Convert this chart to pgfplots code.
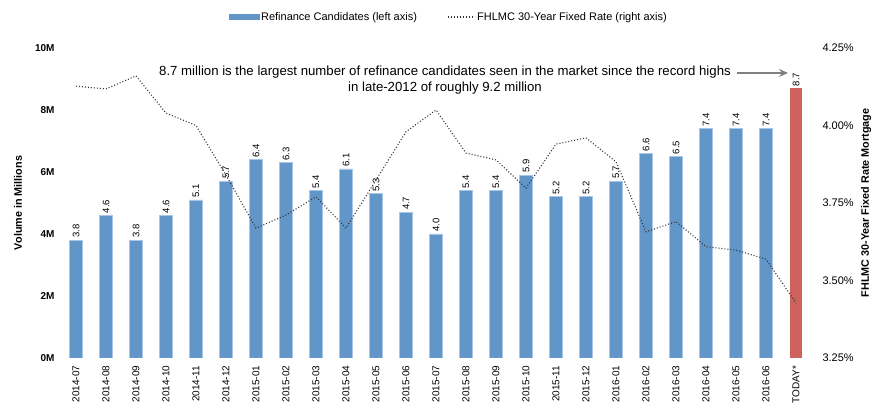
\documentclass[border=0pt]{standalone}
\usepackage{pgfplots}
\pgfplotsset{compat=1.18}
\usetikzlibrary{arrows.meta}
\usepackage{fontspec}
\setmainfont{Liberation Sans}
\definecolor{barblue}{HTML}{6296C9}
\definecolor{barred}{HTML}{CD615C}
\definecolor{baredge}{HTML}{A9C6E6}
\newcommand{\fs}[1]{\fontsize{#1}{#1}\selectfont}
\begin{document}
\begin{tikzpicture}
\path[use as bounding box] (0pt,0pt) rectangle (872pt,409pt);
\begin{axis}[
  at={(61pt,51pt)}, anchor=south west,
  scale only axis, width=750pt, height=310pt,
  xmin=-0.5, xmax=24.5, ymin=0, ymax=10,
  axis line style={draw=none}, tick style={draw=none},
  /pgf/number format/assume math mode=true,
  xtick={0,...,24},
  xticklabels={2014-07,2014-08,2014-09,2014-10,2014-11,2014-12,2015-01,2015-02,2015-03,2015-04,2015-05,2015-06,2015-07,2015-08,2015-09,2015-10,2015-11,2015-12,2016-01,2016-02,2016-03,2016-04,2016-05,2016-06,TODAY*},
  x tick label style={rotate=90, anchor=east, font=\fs{10}},
  ytick={0,2,4,6,8,10},
  yticklabels={\textbf{0M},\textbf{2M},\textbf{4M},\textbf{6M},\textbf{8M},\textbf{10M}},
  y tick label style={font=\fs{10}, xshift=-3pt},
  ylabel={\textbf{Volume in Millions}},
  ylabel style={at={(axis description cs:-0.0573,0.5)}, anchor=center, font=\fs{10.8}},
  ybar, bar width=12.5pt,
  nodes near coords={\pgfmathprintnumber[fixed,fixed zerofill,precision=1]{\pgfplotspointmeta}},
  nodes near coords style={rotate=90, anchor=west, font=\fs{9.5}, inner sep=2pt},
]
\addplot[bar shift=0pt, fill=barblue, draw=baredge, line width=0.6pt] coordinates {
(0,3.8) (1,4.6) (2,3.8) (3,4.6) (4,5.1) (5,5.7) (6,6.4) (7,6.3) (8,5.4) (9,6.1)
(10,5.3) (11,4.7) (12,4.0) (13,5.4) (14,5.4) (15,5.9) (16,5.2) (17,5.2) (18,5.7)
(19,6.6) (20,6.5) (21,7.4) (22,7.4) (23,7.4)};
\addplot[bar shift=0pt, fill=barred, draw=none] coordinates {(24,8.7)};
\end{axis}
\begin{axis}[
  at={(61pt,51pt)}, anchor=south west,
  scale only axis, width=750pt, height=310pt,
  xmin=-0.5, xmax=24.5, ymin=3.25, ymax=4.25,
  axis x line=none, axis y line*=right,
  axis line style={draw=none}, tick style={draw=none},
  /pgf/number format/assume math mode=true,
  ytick={3.25,3.5,3.75,4,4.25},
  yticklabel={\pgfmathprintnumber[fixed,fixed zerofill,precision=2]{\tick}\%},
  y tick label style={font=\fs{11}, xshift=8pt},
  ylabel={\textbf{FHLMC 30-Year Fixed Rate Mortgage}},
  ylabel style={at={(axis description cs:1.0733,0.5)}, anchor=center, font=\fs{10.8}},
  legend columns=2,
  legend style={draw=none, fill=none, at={(0.517,1.1)}, anchor=center, font=\fs{11},
    /tikz/every even column/.append style={column sep=28pt}},
]
\addlegendimage{legend image code/.code={\fill[barblue] (0pt,-2.5pt) rectangle (30pt,2.5pt);}}
\addlegendentry{Refinance Candidates (left axis)}
\addplot[color=black!80, line width=1.1pt, dash pattern=on 1pt off 2pt, mark=none,
  legend image code/.code={\draw[black!80, line width=1.1pt, dash pattern=on 1pt off 2pt] (0pt,0pt) -- (27pt,0pt);}]
coordinates {
(0,4.127) (1,4.118) (2,4.16) (3,4.04) (4,4.00) (5,3.84) (6,3.669) (7,3.711)
(8,3.77) (9,3.669) (10,3.824) (11,3.98) (12,4.05) (13,3.911) (14,3.889)
(15,3.798) (16,3.94) (17,3.96) (18,3.883) (19,3.657) (20,3.69) (21,3.609)
(22,3.598) (23,3.569) (24,3.427)};
\addlegendentry{FHLMC 30-Year Fixed Rate (right axis)}
\end{axis}
\node[font=\fontsize{13.2}{16}\selectfont, align=center] at (445pt,329pt)
  {8.7 million is the largest number of refinance candidates seen in the market since the record highs\\in late-2012 of roughly 9.2 million};
\draw[gray, line width=1.2pt, -{Stealth[length=9pt,width=8pt]}] (737pt,336pt) -- (788pt,336pt);
\end{tikzpicture}
\end{document}
